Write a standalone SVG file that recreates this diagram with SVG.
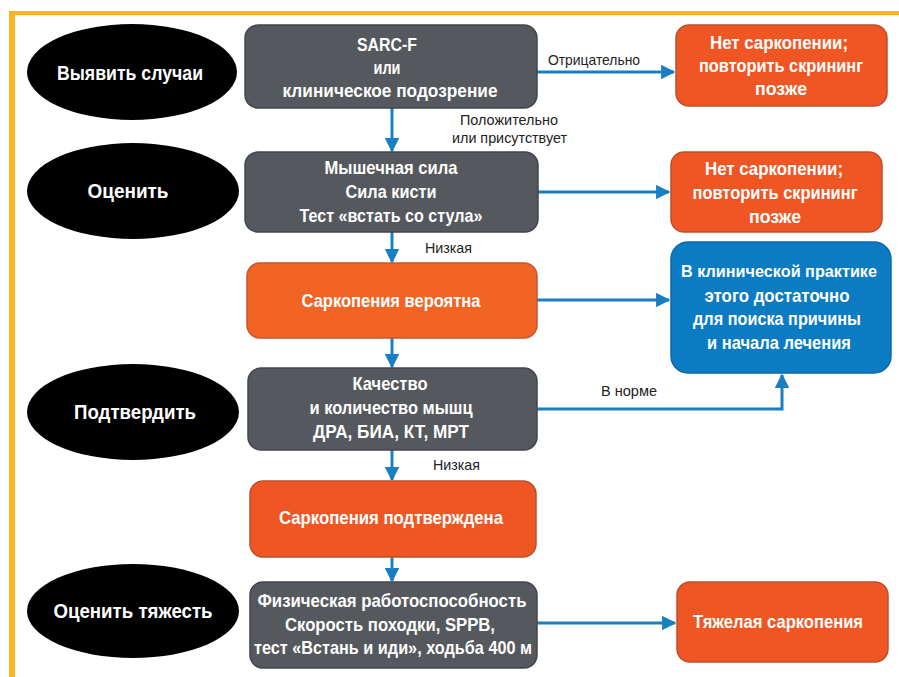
<svg xmlns="http://www.w3.org/2000/svg" width="899" height="677" viewBox="0 0 899 677">
<defs>
<style>
.bg{fill:#ffffff}
.frame{fill:#fbb424}
.ell{fill:#000000}
.gray{fill:#55585d;stroke:#43464a;stroke-width:1.5}
.orange{fill:#f05624;stroke:#b9502e;stroke-width:1.5}
.orange2{fill:#f26424;stroke:#c0582e;stroke-width:1.5}
.blue{fill:#0b7bc3;stroke:#0a6aa8;stroke-width:1.5}
.t{font-family:"Liberation Sans",Arial,sans-serif;font-weight:bold;fill:#ffffff;font-size:19px;text-anchor:middle}
.te{font-family:"Liberation Sans",Arial,sans-serif;font-weight:bold;fill:#ffffff;font-size:21px;text-anchor:middle}
.lbl{font-family:"Liberation Sans",Arial,sans-serif;fill:#222222;font-size:15px}
.c{fill:none;stroke:#1a7fc1;stroke-width:3}
</style>
<marker id="ah" viewBox="0 0 10 10" refX="9" refY="5" markerWidth="4.8" markerHeight="4.8" orient="auto" markerUnits="strokeWidth">
<path d="M0,0 L10,5 L0,10 z" fill="#1a7fc1"/>
</marker>
</defs>
<rect class="bg" x="0" y="0" width="899" height="677"/>
<rect class="frame" x="9" y="11" width="890" height="4"/>
<rect class="frame" x="9" y="11" width="6" height="666"/>

<g id="connectors">
<line class="c" x1="537" y1="72" x2="674" y2="72" marker-end="url(#ah)"/>
<line class="c" x1="392" y1="108" x2="392" y2="151" marker-end="url(#ah)"/>
<line class="c" x1="538" y1="192" x2="669" y2="192" marker-end="url(#ah)"/>
<line class="c" x1="392" y1="232" x2="392" y2="262" marker-end="url(#ah)"/>
<line class="c" x1="537" y1="300" x2="669" y2="300" marker-end="url(#ah)"/>
<line class="c" x1="392" y1="338" x2="392" y2="367" marker-end="url(#ah)"/>
<polyline class="c" points="537,409 782,409 782,375" marker-end="url(#ah)"/>
<line class="c" x1="392" y1="450" x2="392" y2="480" marker-end="url(#ah)"/>
<line class="c" x1="392" y1="557" x2="392" y2="581" marker-end="url(#ah)"/>
<line class="c" x1="537" y1="623" x2="675" y2="623" marker-end="url(#ah)"/>
<text class="lbl" x="548" y="65" textLength="92" lengthAdjust="spacingAndGlyphs">Отрицательно</text>
<text class="lbl" x="460" y="125" textLength="98" lengthAdjust="spacingAndGlyphs">Положительно</text>
<text class="lbl" x="452" y="143" textLength="115" lengthAdjust="spacingAndGlyphs">или присутствует</text>
<text class="lbl" x="425" y="253" textLength="47" lengthAdjust="spacingAndGlyphs">Низкая</text>
<text class="lbl" x="601" y="396" textLength="56" lengthAdjust="spacingAndGlyphs">В норме</text>
<text class="lbl" x="433" y="470" textLength="47" lengthAdjust="spacingAndGlyphs">Низкая</text>
</g>

<g id="step1">
<ellipse class="ell" cx="132" cy="72" rx="105" ry="48"/>
<text class="te" x="130" y="80" textLength="146" lengthAdjust="spacingAndGlyphs">Выявить случаи</text>
</g>
<g id="step2">
<ellipse class="ell" cx="133" cy="191" rx="106" ry="48"/>
<text class="te" x="128" y="198" textLength="81" lengthAdjust="spacingAndGlyphs">Оценить</text>
</g>
<g id="step3">
<ellipse class="ell" cx="133" cy="412" rx="106" ry="48"/>
<text class="te" x="135" y="419" textLength="122" lengthAdjust="spacingAndGlyphs">Подтвердить</text>
</g>
<g id="step4">
<ellipse class="ell" cx="133" cy="611" rx="106" ry="47"/>
<text class="te" x="133" y="618" textLength="159" lengthAdjust="spacingAndGlyphs">Оценить тяжесть</text>
</g>

<g id="sarcf">
<rect class="gray" x="245" y="25" width="292" height="83" rx="13"/>
<text class="t" x="387" y="51" textLength="60" lengthAdjust="spacingAndGlyphs">SARC-F</text>
<text class="t" x="387" y="74" textLength="27" lengthAdjust="spacingAndGlyphs">или</text>
<text class="t" x="390" y="97" textLength="215" lengthAdjust="spacingAndGlyphs">клиническое подозрение</text>
</g>
<g id="strength">
<rect class="gray" x="245" y="152" width="293" height="80" rx="13"/>
<text class="t" x="391" y="174" textLength="133" lengthAdjust="spacingAndGlyphs">Мышечная сила</text>
<text class="t" x="391" y="198" textLength="91" lengthAdjust="spacingAndGlyphs">Сила кисти</text>
<text class="t" x="391" y="222" textLength="183" lengthAdjust="spacingAndGlyphs">Тест «встать со стула»</text>
</g>
<g id="probable">
<rect class="orange2" x="247" y="263" width="290" height="75" rx="13"/>
<text class="t" x="391" y="307" textLength="179" lengthAdjust="spacingAndGlyphs">Саркопения вероятна</text>
</g>
<g id="quality">
<rect class="gray" x="248" y="368" width="289" height="82" rx="13"/>
<text class="t" x="390" y="390" textLength="75" lengthAdjust="spacingAndGlyphs">Качество</text>
<text class="t" x="391" y="414" textLength="163" lengthAdjust="spacingAndGlyphs">и количество мышц</text>
<text class="t" x="391" y="438" textLength="156" lengthAdjust="spacingAndGlyphs">ДРА, БИА, КТ, МРТ</text>
</g>
<g id="confirmed">
<rect class="orange" x="250" y="481" width="286" height="76" rx="13"/>
<text class="t" x="391" y="524" textLength="224" lengthAdjust="spacingAndGlyphs">Саркопения подтверждена</text>
</g>
<g id="performance">
<rect class="gray" x="250" y="582" width="287" height="86" rx="13"/>
<text class="t" x="392" y="607" textLength="269" lengthAdjust="spacingAndGlyphs">Физическая работоспособность</text>
<text class="t" x="390" y="631" textLength="210" lengthAdjust="spacingAndGlyphs">Скорость походки, SPPB,</text>
<text class="t" x="393" y="654" textLength="278" lengthAdjust="spacingAndGlyphs">тест «Встань и иди», ходьба 400 м</text>
</g>

<g id="nosarc1">
<rect class="orange" x="676" y="25" width="211" height="81" rx="13"/>
<text class="t" x="779" y="49" textLength="138" lengthAdjust="spacingAndGlyphs">Нет саркопении;</text>
<text class="t" x="781" y="72" textLength="164" lengthAdjust="spacingAndGlyphs">повторить скрининг</text>
<text class="t" x="781" y="95" textLength="52" lengthAdjust="spacingAndGlyphs">позже</text>
</g>
<g id="nosarc2">
<rect class="orange" x="671" y="152" width="211" height="80" rx="13"/>
<text class="t" x="774" y="175" textLength="138" lengthAdjust="spacingAndGlyphs">Нет саркопении;</text>
<text class="t" x="775" y="199" textLength="165" lengthAdjust="spacingAndGlyphs">повторить скрининг</text>
<text class="t" x="775" y="223" textLength="52" lengthAdjust="spacingAndGlyphs">позже</text>
</g>
<g id="practice">
<rect class="blue" x="671" y="242" width="220" height="131" rx="17"/>
<text class="t" x="779" y="277" style="font-size:17px" textLength="196" lengthAdjust="spacingAndGlyphs">В клинической практике</text>
<text class="t" x="777" y="302" textLength="145" lengthAdjust="spacingAndGlyphs">этого достаточно</text>
<text class="t" x="777" y="325" textLength="168" lengthAdjust="spacingAndGlyphs">для поиска причины</text>
<text class="t" x="779" y="349" textLength="144" lengthAdjust="spacingAndGlyphs">и начала лечения</text>
</g>
<g id="severe">
<rect class="orange" x="677" y="582" width="211" height="80" rx="13"/>
<text class="t" x="778" y="628" textLength="170" lengthAdjust="spacingAndGlyphs">Тяжелая саркопения</text>
</g>
</svg>
